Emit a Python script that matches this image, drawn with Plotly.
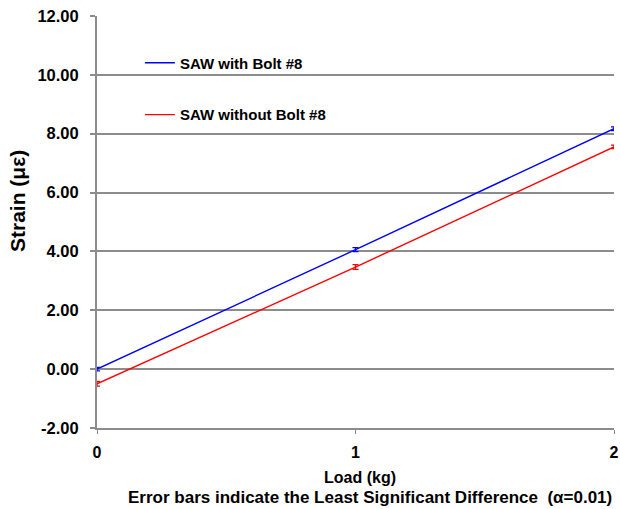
import plotly.graph_objects as go

load = [0, 1, 2]
with_bolt = [0.0, 4.06, 8.17]
with_bolt_err = [0.06, 0.07, 0.06]
without_bolt = [-0.50, 3.47, 7.55]
without_bolt_err = [0.08, 0.08, 0.06]
y_ticks = [-2, 0, 2, 4, 6, 8, 10, 12]
y_tick_labels = ["-2.00", "0.00", "2.00", "4.00", "6.00", "8.00", "10.00", "12.00"]

FONT = "Arial, Liberation Sans, sans-serif"
GRID = "#8c8c8c"

fig = go.Figure()
fig.add_trace(go.Scatter(
    x=load, y=with_bolt, mode="lines", name="SAW with Bolt #8",
    line=dict(color="#0000ff", width=1.4),
    error_y=dict(type="data", array=with_bolt_err, color="#0000ff", thickness=1.3, width=3),
    legend="legend",
))
fig.add_trace(go.Scatter(
    x=load, y=without_bolt, mode="lines", name="SAW without Bolt #8",
    line=dict(color="#ff0000", width=1.4),
    error_y=dict(type="data", array=without_bolt_err, color="#ff0000", thickness=1.3, width=3),
    legend="legend2",
))

legend_common = dict(
    font=dict(family=FONT, size=15, color="#000000", weight="bold"),
    bgcolor="rgba(0,0,0,0)", borderwidth=0, itemwidth=30,
    xanchor="left", yanchor="middle",
)

fig.update_layout(
    width=620, height=509,
    margin=dict(l=97, r=6, t=16, b=81, autoexpand=False),
    paper_bgcolor="white", plot_bgcolor="white",
    font=dict(family=FONT, color="#000000"),
    showlegend=True,
    legend=dict(x=0.083, y=0.886, **legend_common),
    legend2=dict(x=0.083, y=0.760, **legend_common),
    xaxis=dict(
        range=[0, 2], tickvals=load, ticktext=[str(v) for v in load],
        showgrid=False, zeroline=False, automargin=False,
        showline=True, linecolor=GRID, linewidth=2,
        ticks="outside", ticklen=4, tickcolor=GRID, tickwidth=1,
        tickfont=dict(family=FONT, size=16, color="#000000", weight="bold"),
        ticklabelstandoff=5,
    ),
    yaxis=dict(
        range=[-2, 12], tickvals=y_ticks, ticktext=y_tick_labels,
        showgrid=True, gridcolor=GRID, gridwidth=1.5, zeroline=False, automargin=False,
        showline=True, linecolor=GRID, linewidth=2,
        ticks="outside", ticklen=5, tickcolor=GRID, tickwidth=1.5,
        tickfont=dict(family=FONT, size=16.5, color="#000000", weight="bold"),
        ticklabelstandoff=8,
    ),
    annotations=[
        dict(text="Strain (\u03bc\u03b5)", xref="paper", yref="paper",
             x=(17 - 97) / 517, y=(428 - 201) / 412, textangle=-90,
             xanchor="center", yanchor="middle", showarrow=False,
             font=dict(family=FONT, size=21, color="#000000", weight="bold")),
        dict(text="Load (kg)", xref="paper", yref="paper",
             x=(360 - 97) / 517, y=(428 - 477) / 412,
             xanchor="center", yanchor="middle", showarrow=False,
             font=dict(family=FONT, size=16, color="#000000", weight="bold")),
        dict(text="Error bars indicate the Least Significant Difference  (\u03b1=0.01)",
             xref="paper", yref="paper", x=(369.5 - 97) / 517, y=(428 - 498) / 412,
             xanchor="center", yanchor="middle", showarrow=False,
             font=dict(family=FONT, size=17, color="#000000", weight="bold")),
    ],
)

fig.write_html(
    "out.html",
    config={"displayModeBar": False},
    post_script="document.body.style.margin='0';document.body.style.padding='0';document.body.style.overflow='hidden';",
)
